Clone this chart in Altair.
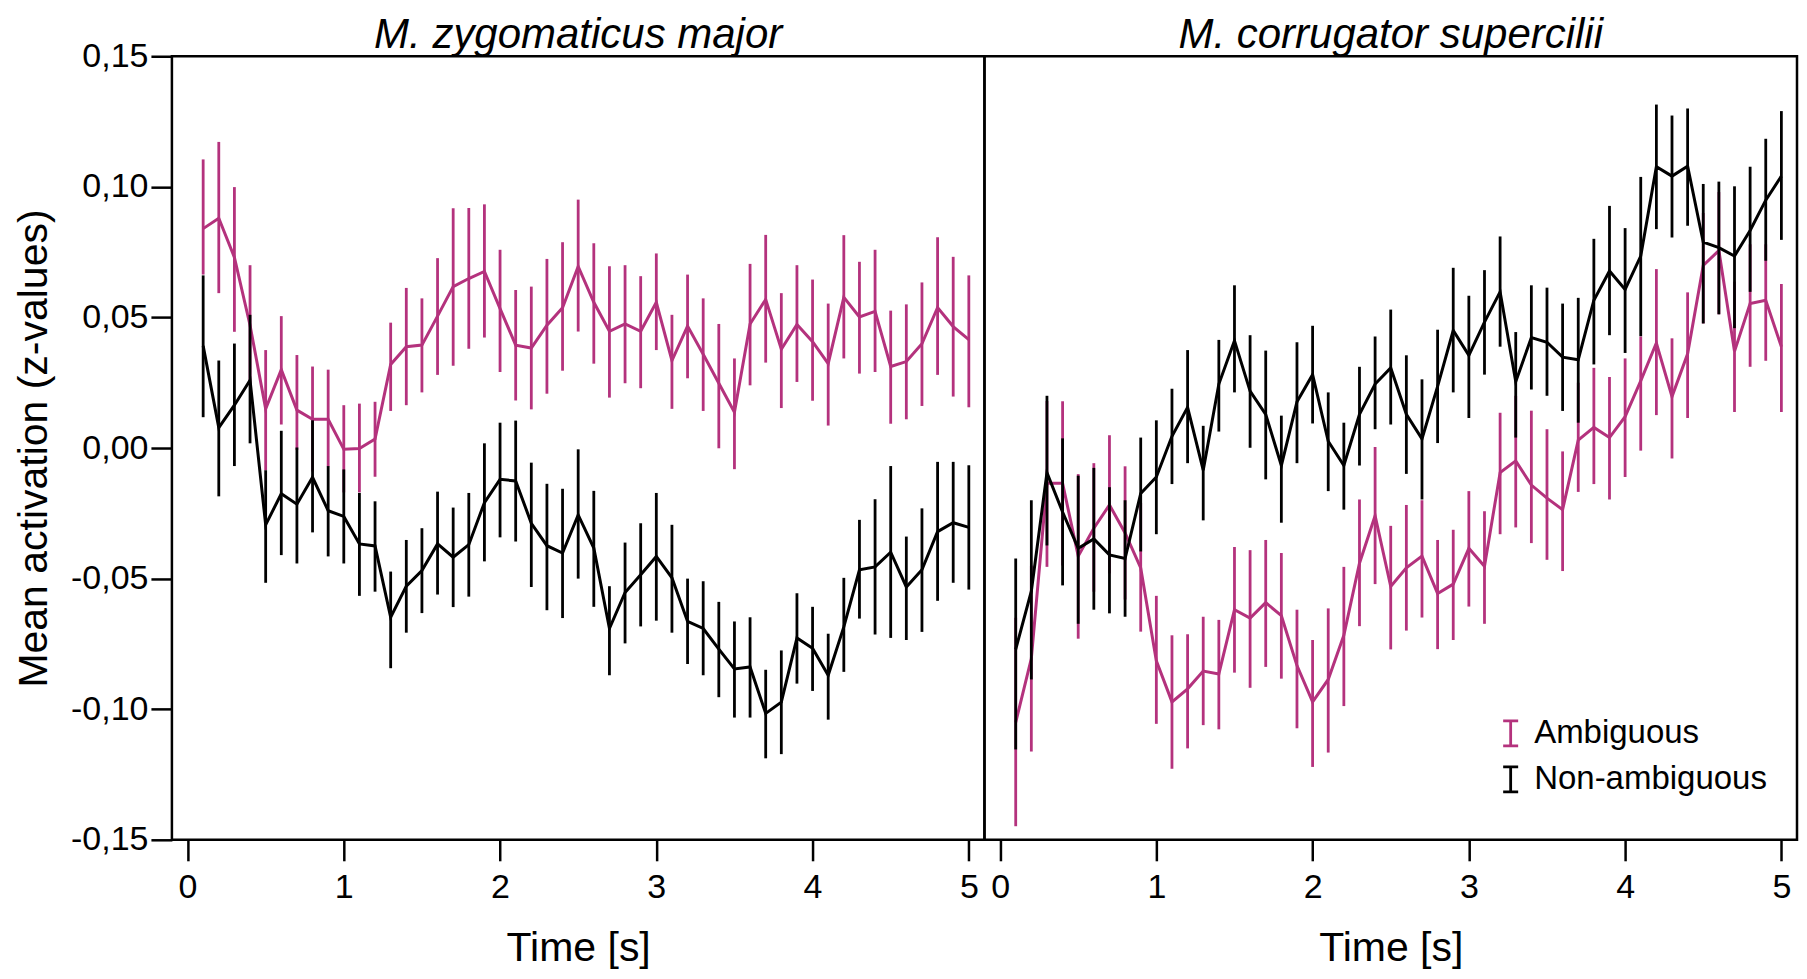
import altair as alt
import pandas as pd

PINK = "#B4327D"
BLACK = "#000000"
FONT = "Liberation Sans"

times = [0.1, 0.2, 0.3, 0.4, 0.5, 0.6, 0.7, 0.8, 0.9, 1.0,
         1.1, 1.2, 1.3, 1.4, 1.5, 1.6, 1.7, 1.8, 1.9, 2.0,
         2.1, 2.2, 2.3, 2.4, 2.5, 2.6, 2.7, 2.8, 2.9, 3.0,
         3.1, 3.2, 3.3, 3.4, 3.5, 3.6, 3.7, 3.8, 3.9, 4.0,
         4.1, 4.2, 4.3, 4.4, 4.5, 4.6, 4.7, 4.8, 4.9, 5.0]

panels = ["M. zygomaticus major", "M. corrugator supercilii"]
conditions = ["Ambiguous", "Non-ambiguous"]

# ---- M. zygomaticus major ----
zyg_amb_mean = [0.084, 0.088, 0.073, 0.047, 0.015, 0.030, 0.0145, 0.011, 0.011, -0.0005, -0.0002, 0.0034, 0.032,
                0.0388, 0.0394, 0.0505, 0.0618, 0.0649, 0.0676, 0.0534, 0.0394, 0.0383, 0.047, 0.0537, 0.0695,
                0.0558, 0.0447, 0.0475, 0.0447, 0.0558, 0.0335, 0.0467, 0.0359, 0.0248, 0.0137, 0.0475, 0.0569,
                0.0378, 0.0473, 0.0407, 0.0323, 0.0577, 0.0502, 0.0523, 0.0312, 0.0331, 0.0399, 0.0538, 0.0465, 0.0415]
zyg_amb_hi = [0.1105, 0.1172, 0.0999, 0.070, 0.0375, 0.0505, 0.0356, 0.0312, 0.030, 0.0164, 0.017, 0.0177, 0.048,
              0.0613, 0.0573, 0.0727, 0.0918, 0.0919, 0.0933, 0.0759, 0.0605, 0.0618, 0.0724, 0.0788, 0.0951,
              0.0784, 0.0696, 0.0700, 0.0658, 0.0745, 0.0510, 0.0664, 0.0573, 0.0475, 0.0343, 0.0705, 0.0816,
              0.0593, 0.0700, 0.0645, 0.0553, 0.0815, 0.0713, 0.0759, 0.0526, 0.0550, 0.0634, 0.0807, 0.0732, 0.0661]
zyg_amb_lo = [0.0664, 0.0593, 0.0445, 0.024, -0.0085, 0.0090, -0.0007, -0.009, -0.007, -0.017, -0.017, -0.011, 0.0142,
              0.0164, 0.0213, 0.0280, 0.0315, 0.0380, 0.0423, 0.0291, 0.0182, 0.0148, 0.0208, 0.0296, 0.0446,
              0.0323, 0.0193, 0.0248, 0.0229, 0.0375, 0.0150, 0.0267, 0.0142, -0.0001, -0.0081, 0.0240, 0.0327,
              0.0153, 0.0253, 0.0181, 0.0086, 0.0343, 0.0285, 0.0291, 0.0093, 0.0110, 0.0161, 0.0280, 0.0197, 0.0156]

zyg_non_mean = [0.0391, 0.0078, 0.0164, 0.026, -0.0294, -0.0175, -0.0215, -0.0112, -0.024, -0.0262, -0.0367, -0.0375, -0.0648,
                -0.0529, -0.0469, -0.0367, -0.0418, -0.0370, -0.0209, -0.0120, -0.0126, -0.0288, -0.0374, -0.0402, -0.0256,
                -0.0383, -0.0691, -0.0553, -0.0485, -0.0415, -0.0497, -0.0664, -0.0691, -0.0770, -0.0846, -0.0838, -0.1016,
                -0.0973, -0.0727, -0.0767, -0.0870, -0.0685, -0.0466, -0.0455, -0.0399, -0.0532, -0.0466, -0.0320, -0.0286, -0.0304]
zyg_non_hi = [0.0661, 0.0335, 0.040, 0.051, -0.0085, 0.0066, 0.0002, 0.0106, -0.0069, -0.0082, -0.0172, -0.0204, -0.0473,
              -0.0352, -0.0307, -0.0167, -0.0228, -0.0172, 0.0018, 0.0097, 0.0105, -0.0056, -0.0137, -0.0156, -0.0005,
              -0.0164, -0.0529, -0.0362, -0.0288, -0.0172, -0.0294, -0.0500, -0.0510, -0.0589, -0.0664, -0.0648, -0.0849,
              -0.0775, -0.0556, -0.0608, -0.0711, -0.0497, -0.0275, -0.0196, -0.0069, -0.0339, -0.0231, -0.0053, -0.0053, -0.0066]
zyg_non_lo = [0.0118, -0.0185, -0.0069, 0.0018, -0.0516, -0.0410, -0.0442, -0.0323, -0.0415, -0.0442, -0.0566, -0.0550, -0.0843,
              -0.0707, -0.0632, -0.0561, -0.0609, -0.0569, -0.0434, -0.0342, -0.0358, -0.0532, -0.0621, -0.0651, -0.0500,
              -0.0608, -0.0870, -0.0748, -0.0683, -0.0661, -0.0707, -0.0827, -0.0870, -0.0954, -0.1032, -0.1032, -0.1188,
              -0.1172, -0.0902, -0.0930, -0.1040, -0.0857, -0.0653, -0.0714, -0.0727, -0.0735, -0.0704, -0.0585, -0.0516, -0.0542]

# ---- M. corrugator supercilii ----
cor_amb_mean = [-0.105, -0.0806, -0.0135, -0.0135, -0.0414, -0.0307, -0.0218, -0.0325, -0.0459, -0.0815, -0.0972, -0.0922, -0.0854,
                -0.0865, -0.0619, -0.0651, -0.0592, -0.0642, -0.0833, -0.0972, -0.0886, -0.0717, -0.0441, -0.0259, -0.0530,
                -0.0459, -0.0414, -0.0557, -0.0521, -0.0384, -0.0453, -0.0094, -0.0049, -0.0142, -0.0192, -0.0236, 0.003,
                0.0079, 0.0040, 0.0120, 0.0257, 0.0402, 0.0197, 0.0361, 0.0699, 0.0756, 0.0370, 0.0553, 0.0566, 0.0388]
cor_amb_hi = [-0.065, -0.045, 0.018, 0.0179, -0.010, -0.0058, 0.0049, -0.0070, -0.021, -0.0566, -0.0717, -0.0713, -0.0646,
              -0.0658, -0.0379, -0.0391, -0.0352, -0.0402, -0.0619, -0.0735, -0.0614, -0.0455, -0.0197, 0.0004, -0.0298,
              -0.0218, -0.0200, -0.0352, -0.0313, -0.0165, -0.0242, 0.0135, 0.020, 0.0143, 0.0072, -0.0013, 0.025,
              0.0307, 0.0272, 0.0343, 0.0427, 0.0685, 0.0420, 0.0596, 0.090, 0.098, 0.0637, 0.078, 0.078, 0.0628]
cor_amb_lo = [-0.1448, -0.1162, -0.0455, -0.045, -0.0730, -0.055, -0.048, -0.058, -0.0703, -0.1056, -0.1228, -0.1150, -0.1061,
              -0.1077, -0.0860, -0.0918, -0.0838, -0.0883, -0.1073, -0.1221, -0.1166, -0.0988, -0.0682, -0.0521, -0.0771,
              -0.0699, -0.0649, -0.0770, -0.0735, -0.0607, -0.0673, -0.0330, -0.0304, -0.0364, -0.0428, -0.0471, -0.0168,
              -0.0138, -0.0197, -0.0111, -0.0010, 0.0126, -0.0040, 0.0115, 0.0477, 0.0512, 0.0138, 0.0311, 0.0334, 0.0138]

cor_non_mean = [-0.0771, -0.0548, -0.0094, -0.0245, -0.0384, -0.0348, -0.0409, -0.0423, -0.0174, -0.0111, 0.0045, 0.0156, -0.0085,
                0.0245, 0.0411, 0.0218, 0.0129, -0.0067, 0.0177, 0.0281, 0.0026, -0.0067, 0.0129, 0.0245, 0.0307,
                0.0129, 0.0035, 0.0236, 0.0450, 0.0355, 0.0482, 0.0598, 0.0254, 0.0423, 0.0405, 0.0348, 0.0338,
                0.0566, 0.0678, 0.0607, 0.0735, 0.1077, 0.1041, 0.1079, 0.0788, 0.0767, 0.0735, 0.0833, 0.0949, 0.1041]
cor_non_hi = [-0.0423, -0.0200, 0.0200, 0.0037, -0.0106, -0.0076, -0.015, -0.0200, 0.0040, 0.0106, 0.0227, 0.0375, 0.0085,
              0.0414, 0.0623, 0.0432, 0.0373, 0.0124, 0.0405, 0.0468, 0.0213, 0.0097, 0.0311, 0.0427, 0.0530,
              0.0355, 0.0263, 0.0453, 0.0690, 0.0583, 0.0681, 0.0810, 0.0444, 0.0623, 0.0614, 0.0553, 0.0575,
              0.0801, 0.0927, 0.0842, 0.1038, 0.1315, 0.1273, 0.1300, 0.1011, 0.1020, 0.1002, 0.1077, 0.1184, 0.1290]
cor_non_lo = [-0.1154, -0.0886, -0.0373, -0.0526, -0.0673, -0.0619, -0.0633, -0.0646, -0.0396, -0.0330, -0.0138, -0.0058, -0.0277,
              0.0063, 0.0213, 0.0001, -0.0120, -0.0286, -0.0058, 0.0094, -0.0165, -0.0236, -0.0067, 0.0072, 0.0090,
              -0.0099, -0.0197, 0.0019, 0.0213, 0.0115, 0.0281, 0.0388, 0.0040, 0.0224, 0.0200, 0.0142, 0.0097,
              0.0320, 0.0432, 0.0364, 0.0428, 0.0838, 0.0806, 0.0851, 0.0477, 0.0512, 0.0459, 0.0598, 0.0717, 0.0797]

y_ticks = [-0.15, -0.10, -0.05, 0.0, 0.05, 0.10, 0.15]
x_ticks = [0, 1, 2, 3, 4, 5]

series = {
    (panels[0], conditions[0]): (zyg_amb_mean, zyg_amb_lo, zyg_amb_hi),
    (panels[0], conditions[1]): (zyg_non_mean, zyg_non_lo, zyg_non_hi),
    (panels[1], conditions[0]): (cor_amb_mean, cor_amb_lo, cor_amb_hi),
    (panels[1], conditions[1]): (cor_non_mean, cor_non_lo, cor_non_hi),
}
rows = []
for (p, c), (m, lo, hi) in series.items():
    for t, mv, lv, hv in zip(times, m, lo, hi):
        rows.append({"panel": p, "cond": c, "t": t, "mean": mv, "lo": lv, "hi": hv})
df = pd.DataFrame(rows)

color_scale = alt.Scale(domain=conditions, range=[PINK, BLACK])
x_scale = alt.Scale(domain=[-0.1, 5.1], nice=False, zero=False)
y_scale = alt.Scale(domain=[-0.15, 0.15], nice=False, zero=False)

x_axis = alt.Axis(values=x_ticks, format="d", title="Time [s]", grid=False)
y_axis = alt.Axis(values=y_ticks, title="Mean activation (z-values)", grid=False,
                  labelExpr="(datum.value < -0.0001 ? '-' : '') + replace(format(abs(datum.value), '.2f'), '.', ',')")

I_PATH = "M-0.6,-1H0.6M0,-1V1M-0.6,1H0.6"


def make_panel(name, show_y, show_legend, title_offset):
    base = alt.Chart(df).transform_filter(alt.datum.panel == name)
    yax = y_axis if show_y else None
    if show_legend:
        leg = alt.Legend(title=None, orient="none", legendX=510, legendY=661,
                         symbolType=I_PATH, symbolSize=625, symbolStrokeWidth=2.8,
                         symbolFillColor="transparent",
                         labelFontSize=33, labelFont=FONT, labelColor="black",
                         labelLimit=0, labelOffset=7, rowPadding=9)
    else:
        leg = None
    color = alt.Color("cond:N", scale=color_scale, legend=leg)
    layers = []
    for c in conditions:
        sub = base.transform_filter(alt.datum.cond == c)
        rules = sub.mark_rule(strokeWidth=2.8).encode(
            x=alt.X("t:Q", scale=x_scale, axis=x_axis),
            y=alt.Y("lo:Q", scale=y_scale, axis=yax, title="Mean activation (z-values)"),
            y2="hi:Q",
            color=color,
        )
        line = sub.mark_line(strokeWidth=3).encode(
            x=alt.X("t:Q", scale=x_scale, axis=x_axis),
            y=alt.Y("mean:Q", scale=y_scale, axis=yax, title="Mean activation (z-values)"),
            color=color,
        )
        layers += [rules, line]
    return alt.layer(*layers).properties(
        width=813, height=784,
        title=alt.TitleParams(name, fontSize=42, fontStyle="italic", fontWeight="normal",
                              font=FONT, color="black", anchor="middle", offset=title_offset,
                              frame="group"),
    )


# the left panel's title sits above its y-axis labels, which reach ~17px above the frame
left = make_panel(panels[0], True, False, -18)
right = make_panel(panels[1], False, True, -1)

chart = alt.hconcat(left, right, spacing=0, bounds="flush").resolve_legend(
    color="independent"
).properties(
    padding={"left": 4, "top": 4, "right": 0, "bottom": 0},
    background="white",
).configure_view(
    stroke="black", strokeWidth=2.5
).configure_axis(
    labelFont=FONT, labelFontSize=34, labelColor="black",
    titleFont=FONT, titleFontSize=41, titleFontWeight="normal", titleColor="black",
    tickColor="black", tickWidth=2.5, tickSize=21, domain=False,
).configure_axisX(
    labelPadding=10, titlePadding=24
).configure_axisY(
    labelPadding=3, titlePadding=15
)

chart.save("out.html", embed_options={"renderer": "svg", "actions": False})
